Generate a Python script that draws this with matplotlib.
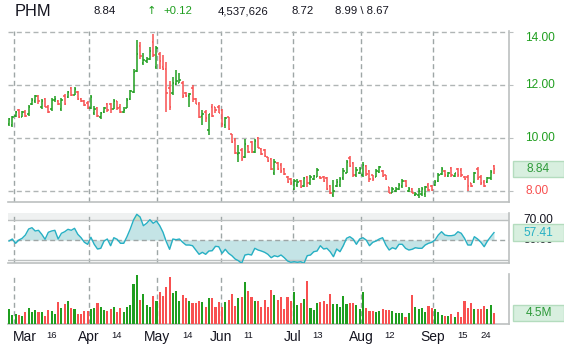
#!/usr/bin/env python3
# -*- coding: utf-8 -*-
"""
PHM daily chart: OHLC bars, RSI strip and volume, with a quote header.
Saves out.png (564x348).
"""

import numpy as np
import matplotlib
matplotlib.use("Agg")
import matplotlib.pyplot as plt
from matplotlib.patches import Rectangle
from matplotlib.transforms import blended_transform_factory

# ----------------------------------------------------------------------
# data
# ----------------------------------------------------------------------

symbol = "PHM"

opens = [
    10.53, 10.51, 10.83, 11.05, 10.81, 11.00, 10.90, 11.28, 11.40, 11.60,
    11.20, 11.50, 11.20, 11.10, 11.45, 11.40, 11.10, 11.60, 11.55, 11.90,
    11.65, 11.75, 11.50, 11.40, 11.35, 11.15, 10.95, 11.15, 10.80, 11.00,
    11.30, 11.30, 11.10, 11.40, 11.20, 11.00, 11.15, 11.50, 11.75, 12.55,
    13.50, 12.83, 12.90, 13.00, 13.65, 12.70, 13.20, 12.70, 12.60, 11.90,
    11.70, 12.05, 12.10, 12.10, 11.70, 11.60, 11.90, 11.50, 11.30, 10.85,
    11.00, 10.30, 11.20, 11.18, 11.20, 11.05, 10.50, 10.80, 10.15, 9.95,
    9.40, 9.55, 9.30, 9.70, 9.85, 9.50, 10.00, 9.60, 9.55, 9.28,
    9.20, 8.70, 9.05, 9.00, 8.85, 8.55, 8.45, 8.10, 8.25, 8.40,
    8.20, 8.55, 8.30, 8.45, 8.55, 8.55, 8.55, 8.50, 8.20, 7.85,
    8.20, 8.25, 8.50, 8.70, 9.25, 9.05, 8.60, 8.70, 8.60, 8.95,
    8.75, 8.60, 8.55, 8.72, 8.78, 8.60, 8.15, 7.95, 8.00, 8.10,
    8.20, 8.40, 8.00, 8.10, 7.85, 7.85, 7.90, 7.90, 8.25, 8.20,
    8.25, 8.40, 8.65, 8.78, 8.58, 8.88, 8.58, 8.85, 8.80, 8.55,
    8.55, 8.30, 8.35, 8.85, 8.55, 8.35, 8.35, 8.50, 8.95,
]

highs = [
    10.75, 10.84, 11.03, 11.09, 11.03, 11.07, 11.26, 11.51, 11.63, 11.63,
    11.47, 11.51, 11.26, 11.51, 11.60, 11.45, 11.51, 11.67, 11.80, 11.92,
    11.92, 11.80, 11.51, 11.45, 11.42, 11.63, 11.22, 11.17, 11.00, 11.17,
    11.35, 11.35, 11.47, 11.42, 11.29, 11.20, 11.51, 11.82, 12.60, 13.71,
    13.65, 13.21, 13.08, 13.46, 13.94, 13.48, 13.27, 13.14, 12.89, 12.18,
    12.33, 12.58, 12.45, 12.18, 11.76, 11.70, 12.01, 11.51, 11.38, 11.07,
    11.07, 10.92, 11.29, 11.19, 11.26, 11.10, 10.79, 10.82, 10.16, 10.00,
    9.75, 9.62, 9.96, 9.75, 9.91, 9.98, 10.04, 9.62, 9.58, 9.31,
    9.24, 9.21, 9.12, 9.08, 8.87, 8.58, 8.49, 8.45, 8.45, 8.43,
    8.53, 8.58, 8.62, 8.62, 8.87, 8.58, 8.58, 8.55, 8.24, 8.43,
    8.45, 8.53, 8.87, 9.18, 9.33, 9.12, 8.90, 8.93, 9.12, 8.99,
    8.80, 8.62, 8.83, 8.95, 8.80, 8.62, 8.17, 8.17, 8.15, 8.30,
    8.45, 8.43, 8.15, 8.11, 7.99, 8.11, 8.17, 8.20, 8.30, 8.24,
    8.43, 8.68, 8.90, 8.80, 8.74, 8.90, 8.70, 8.87, 8.87, 8.58,
    8.62, 8.33, 8.74, 8.90, 8.62, 8.43, 8.53, 8.80, 8.99,
]

lows = [
    10.48, 10.44, 10.79, 10.75, 10.79, 10.79, 10.84, 11.26, 11.35, 11.30,
    11.09, 11.17, 10.97, 11.04, 11.38, 11.25, 11.04, 11.26, 11.51, 11.60,
    11.63, 11.45, 11.38, 11.22, 11.09, 11.09, 10.88, 10.79, 10.72, 10.97,
    11.00, 10.97, 11.09, 11.07, 10.97, 10.97, 11.13, 11.45, 11.72, 12.52,
    12.98, 12.77, 12.83, 12.95, 13.08, 12.60, 12.60, 12.58, 11.00, 11.07,
    11.63, 12.00, 12.07, 11.51, 11.57, 11.17, 11.38, 11.29, 10.75, 10.50,
    10.63, 10.12, 10.82, 10.94, 10.94, 10.44, 10.38, 10.31, 9.81, 9.41,
    9.12, 9.16, 9.24, 9.43, 9.46, 9.46, 9.62, 9.37, 9.31, 9.12,
    8.80, 8.62, 8.80, 8.68, 8.62, 8.30, 8.24, 8.05, 8.17, 8.11,
    8.15, 8.17, 8.24, 8.43, 8.53, 8.45, 8.36, 8.05, 7.90, 7.77,
    8.15, 8.17, 8.43, 8.68, 8.90, 8.53, 8.53, 8.65, 8.53, 8.58,
    8.36, 8.40, 8.53, 8.70, 8.53, 8.43, 7.92, 7.92, 7.99, 8.05,
    8.11, 8.17, 7.99, 7.92, 7.82, 7.74, 7.82, 7.80, 8.02, 8.02,
    8.20, 8.36, 8.62, 8.53, 8.53, 8.53, 8.53, 8.55, 8.53, 8.43,
    8.02, 8.17, 8.33, 8.43, 8.24, 8.15, 8.30, 8.43, 8.67,
]

closes = [
    10.72, 10.79, 10.98, 10.80, 10.98, 10.85, 11.20, 11.45, 11.60, 11.40,
    11.42, 11.20, 11.00, 11.45, 11.50, 11.30, 11.45, 11.30, 11.75, 11.65,
    11.85, 11.50, 11.40, 11.25, 11.15, 11.55, 11.10, 10.85, 10.95, 11.15,
    11.05, 11.10, 11.40, 11.15, 11.00, 11.05, 11.45, 11.80, 12.50, 13.20,
    13.10, 12.95, 13.00, 13.30, 13.15, 13.40, 12.90, 12.62, 11.70, 11.20,
    12.10, 12.15, 12.20, 11.60, 11.60, 11.68, 11.50, 11.30, 10.80, 10.90,
    10.75, 10.90, 10.85, 11.05, 10.95, 10.55, 10.75, 10.35, 9.85, 9.45,
    9.45, 9.20, 9.80, 9.50, 9.50, 9.90, 9.65, 9.40, 9.35, 9.15,
    8.85, 9.10, 8.85, 8.75, 8.65, 8.35, 8.30, 8.40, 8.35, 8.15,
    8.50, 8.30, 8.55, 8.58, 8.80, 8.50, 8.40, 8.10, 7.95, 8.00,
    8.35, 8.45, 8.75, 9.10, 8.95, 8.60, 8.80, 8.85, 9.00, 8.65,
    8.45, 8.45, 8.75, 8.90, 8.58, 8.45, 7.95, 8.10, 8.10, 8.25,
    8.40, 8.20, 8.10, 7.95, 7.90, 8.00, 8.10, 8.15, 8.05, 8.05,
    8.35, 8.60, 8.85, 8.60, 8.70, 8.60, 8.68, 8.60, 8.60, 8.45,
    8.20, 8.20, 8.70, 8.50, 8.30, 8.20, 8.50, 8.72, 8.84,
]

# daily volume, millions of shares
volume_m = [
    5.97, 3.63, 4.02, 3.63, 3.24, 4.93, 6.23, 4.67, 5.58, 4.67,
    4.67, 3.24, 5.58, 5.19, 4.02, 8.56, 6.23, 7.79, 9.08, 6.23,
    5.97, 4.02, 4.02, 5.19, 5.19, 5.97, 6.23, 8.17, 6.62, 5.58,
    5.19, 5.97, 6.62, 4.67, 6.23, 4.67, 6.62, 7.53, 15.7, 19.2,
    9.48, 11.8, 7.53, 6.88, 11.0, 9.08, 12.5, 11.0, 14.7, 18.6,
    12.1, 13.0, 9.08, 11.4, 10.1, 9.08, 8.43, 8.17, 9.08, 8.56,
    6.88, 10.1, 10.1, 6.88, 8.56, 6.88, 8.56, 9.48, 11.8, 7.27,
    10.4, 10.5, 16.5, 13.0, 10.8, 9.08, 9.08, 6.88, 9.48, 6.88,
    13.4, 11.4, 9.48, 10.8, 5.83, 10.8, 9.20, 12.7, 7.53, 8.43,
    9.70, 17.0, 6.23, 5.58, 8.43, 8.82, 9.20, 7.92, 11.8, 7.92,
    7.92, 6.62, 11.0, 7.92, 8.43, 8.43, 7.53, 5.83, 12.7, 6.23,
    5.32, 5.32, 4.93, 5.32, 5.83, 5.58, 5.58, 5.32, 4.54, 4.54,
    4.54, 2.98, 4.54, 11.4, 6.62, 5.83, 6.23, 4.67, 7.14, 6.23,
    5.83, 4.67, 3.63, 3.24, 3.24, 4.02, 2.98, 4.93, 2.98, 9.08,
    6.49, 8.17, 5.83, 5.83, 5.83, 7.14, 5.83, 7.53, 4.537626,
]

rsi = [
    49.0, 51.0, 46.7, 50.0, 51.7, 55.0, 61.0, 62.3, 59.0, 59.7,
    55.7, 50.7, 57.7, 59.0, 59.7, 51.0, 56.7, 58.3, 60.7, 59.7,
    61.7, 55.7, 52.3, 47.7, 45.7, 52.7, 45.7, 41.0, 41.7, 49.0,
    51.0, 44.3, 52.3, 50.7, 46.7, 46.7, 53.3, 61.0, 70.0, 75.7,
    73.0, 64.3, 66.7, 70.3, 66.7, 69.0, 64.3, 57.7, 48.3, 40.7,
    51.0, 50.3, 51.0, 47.7, 45.0, 45.0, 44.3, 40.0, 35.7, 37.7,
    35.7, 39.0, 39.3, 43.7, 43.3, 36.7, 40.7, 36.7, 34.3, 31.0,
    29.3, 26.7, 35.0, 35.7, 35.0, 41.7, 40.0, 39.0, 37.7, 35.7,
    32.3, 34.3, 33.3, 35.0, 32.3, 29.0, 27.7, 28.3, 27.7, 28.3,
    26.7, 34.3, 35.0, 38.3, 39.0, 44.3, 41.0, 41.7, 38.3, 33.3,
    41.0, 38.3, 44.3, 51.7, 53.3, 51.0, 45.7, 51.0, 52.3, 50.0,
    44.3, 47.7, 49.0, 51.0, 52.3, 45.0, 40.0, 42.3, 41.0, 45.7,
    45.7, 41.7, 40.0, 40.7, 42.3, 41.7, 41.7, 45.0, 46.7, 47.7,
    50.0, 55.0, 58.3, 55.0, 54.3, 54.3, 55.0, 58.3, 56.7, 51.7,
    45.0, 45.0, 53.3, 51.0, 47.7, 43.3, 49.0, 53.3, 57.41,
]

# axis labels (positions in bar-index units)
month_names = ["Mar", "Apr", "May", "Jun", "Jul", "Aug", "Sep"]
month_pos = [1.5, 24.4, 45.2, 64.7, 86.6, 107.4, 129.4]
day_names = ["16", "14", "14", "11", "13", "12", "15", "24"]
day_pos = [13.1, 32.7, 54.6, 73.1, 94.1, 116.1, 138.5, 145.6]
price_ticks = [8, 10, 12, 14]
hi_lo_today = (8.99, 8.67)

# ----------------------------------------------------------------------
# style
# ----------------------------------------------------------------------

W, H = 564, 348
UP = "#1f9e1f"
DOWN = "#f85050"
GRID_V = "#9ea6a6"
GRID_H = "#b0b5b5"
FRAME = "#bcc0c0"
RSI_LINE = "#27b0c4"
RSI_FILL = "#c4e4e6"
RSI_HOT = "#c6e6c4"
BOX_FACE = "#d8efdf"
BOX_EDGE = "#b4dcbe"
TXT = "#151520"

plt.rcParams["font.family"] = ["Liberation Sans", "DejaVu Sans"]

BAR_PX0 = 9.0          # x pixel of first bar
BAR_STEP = 485.0 / 148  # pixels per bar


def px_box(left, top, right, bottom):
    """pixel rectangle (top-left origin) -> figure fraction [l, b, w, h]"""
    return [left / W, 1 - bottom / H, (right - left) / W, (bottom - top) / H]


def fy(y_px):
    return 1 - y_px / H


def setup_x(ax):
    ax.set_xlim((8 - BAR_PX0) / BAR_STEP, (509 - BAR_PX0) / BAR_STEP)
    ax.set_xticks([])
    for m in month_pos:
        ax.axvline(m, color=GRID_V, lw=1.0, dashes=(3.6, 2.4), zorder=1)
    for s in ("left", "top"):
        ax.spines[s].set_visible(False)
    for s in ("bottom", "right"):
        ax.spines[s].set_color(FRAME)
        ax.spines[s].set_linewidth(1.2)


def value_box(ax, y_val, h_val, text, color):
    tr = blended_transform_factory(ax.figure.transFigure, ax.transData)
    ax.add_patch(Rectangle((513 / W, y_val - h_val / 2), 51 / W, h_val,
                           transform=tr, facecolor=BOX_FACE, edgecolor=BOX_EDGE,
                           lw=1.0, clip_on=False, zorder=5))
    ax.text(538.5 / W, y_val, text, transform=tr, ha="center", va="center",
            fontsize=8.6, color=color, zorder=6, clip_on=False)


# ----------------------------------------------------------------------
# figure
# ----------------------------------------------------------------------

o = np.array(opens)
hi = np.array(highs)
lo = np.array(lows)
c = np.array(closes)
vol = np.array(volume_m)
r = np.array(rsi)
x = np.arange(len(c))
cols = np.where(c >= o, UP, DOWN)

fig = plt.figure(figsize=(W / 100, H / 100), dpi=100)

# ---------- price panel ----------
ax = fig.add_axes(px_box(8, 31, 509, 202))
setup_x(ax)
px_per_unit = 26.5
ax.set_ylim(8 - (202 - 191.3) / px_per_unit, 8 + (191.3 - 31) / px_per_unit)
for p in price_ticks:
    ax.axhline(p, color=GRID_H, lw=1.0, dashes=(3.6, 2.4), zorder=1)
ax.set_yticks(price_ticks)
ax.tick_params(axis="y", left=False, right=True, labelleft=False,
               labelright=False, length=3, color=FRAME)

ax.vlines(x, lo, hi, colors=cols, lw=1.1, zorder=3)
ax.hlines(o, x - 0.45, x, colors=cols, lw=1.1, zorder=3)
ax.hlines(c, x, x + 0.45, colors=cols, lw=1.1, zorder=3)

tr_p = blended_transform_factory(fig.transFigure, ax.transData)
for p in price_ticks:
    col = UP if p > c[-1] else DOWN
    va = "top" if p == max(price_ticks) else "center"
    ax.text(525 / W, p, f"{p:.2f}", transform=tr_p, ha="left", va=va,
            fontsize=8.6, color=col, clip_on=False)
value_box(ax, c[-1], 16 / px_per_unit, f"{c[-1]:.2f}", "#2e9a3a")

# ---------- RSI panel ----------
ax_r = fig.add_axes(px_box(8, 213, 509, 263))
setup_x(ax_r)
ax_r.set_ylim(27, 77)
ax_r.set_yticks([])
ax_r.axhspan(70, 77, color="#eff1f1", lw=0, zorder=0)
ax_r.axhline(70, color=FRAME, lw=1.0, zorder=2)
ax_r.axhline(30, color=FRAME, lw=1.0, zorder=2)
ax_r.axhline(50, color=GRID_V, lw=1.0, dashes=(3.6, 2.4), zorder=2)
ax_r.fill_between(x, np.minimum(r, 70), 50, color=RSI_FILL, lw=0, zorder=1)
ax_r.fill_between(x, r, 70, where=r > 70, interpolate=True,
                  color=RSI_HOT, lw=0, zorder=1)
ax_r.plot(x, r, color=RSI_LINE, lw=1.0, zorder=4)

tr_r = blended_transform_factory(fig.transFigure, ax_r.transData)
for lvl in (70, 50):
    ax_r.text(523 / W, lvl, f"{lvl:.2f}", transform=tr_r, ha="left",
              va="center", fontsize=8.6, color=TXT, clip_on=False, zorder=4)
value_box(ax_r, r[-1], 17, f"{r[-1]:.2f}", RSI_LINE)

# ---------- volume panel ----------
ax_v = fig.add_axes(px_box(8, 274, 509, 324.3))
setup_x(ax_v)
ax_v.set_ylim(0, 19.6)
ax_v.set_yticks([])
ax_v.bar(x, vol, width=0.64, color=cols, lw=0, zorder=3)
value_box(ax_v, vol[-1], 16 * 19.6 / 50.3, f"{vol[-1]:.1f}M", "#2e9a3a")

tr_x = blended_transform_factory(ax_v.transData, fig.transFigure)
for m, name in zip(month_pos, month_names):
    ha = "left" if m == month_pos[0] else "center"
    xm = m - 0.4 if ha == "left" else m
    ax_v.text(xm, fy(337), name, transform=tr_x, ha=ha, va="center",
              fontsize=10, color=TXT, clip_on=False)
for d, name in zip(day_pos, day_names):
    ax_v.text(d, fy(335), name, transform=tr_x, ha="center", va="center",
              fontsize=6.8, color=TXT, clip_on=False)

# ---------- quote header ----------
chg = c[-1] - c[-2]
fig.text(15 / W, fy(11.5), symbol, fontsize=11.8, color=TXT, va="center")
fig.text(94 / W, fy(11), f"{c[-1]:.2f}", fontsize=8.2, color=TXT, va="center")
fig.text(147 / W, fy(11), "\u2191", fontsize=8.2, color=UP, va="center",
         family=["DejaVu Sans"])
fig.text(163 / W, fy(11), f"{chg:+.2f}", fontsize=8.2, color=UP, va="center")
fig.text(218 / W, fy(11), f"{vol[-1] * 1e6:,.0f}", fontsize=8.2, color=TXT,
         va="center")
fig.text(291 / W, fy(11), f"{c[-2]:.2f}", fontsize=8.2, color=TXT, va="center")
fig.text(335 / W, fy(11), f"{hi_lo_today[0]:.2f} \\ {hi_lo_today[1]:.2f}",
         fontsize=8.2, color=TXT, va="center")

fig.savefig("out.png", dpi=100)
